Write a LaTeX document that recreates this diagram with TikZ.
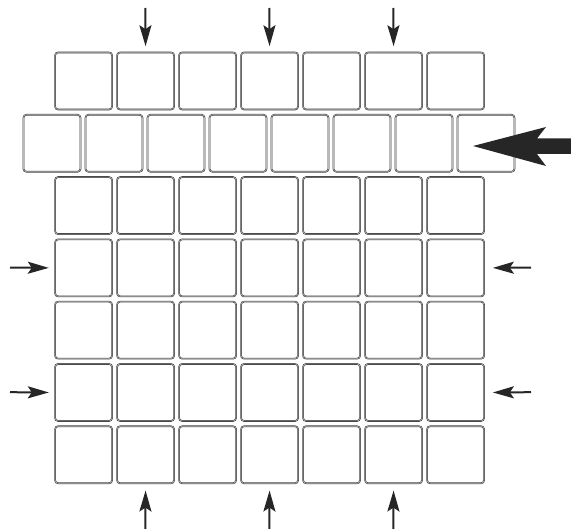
\documentclass[tikz,border=0pt]{standalone}
\usetikzlibrary{arrows.meta}
\begin{document}
\begin{tikzpicture}[x=1pt,y=-1pt,
  cell/.style={draw=gray!45!black, double=gray!55, double distance=0.55pt, line width=0.55pt,
    rounded corners=3pt, minimum width=57pt, minimum height=57pt, inner sep=0pt, anchor=north west},
  sarrow/.style={-{Stealth[length=21pt,width=12pt,inset=4pt]}, line width=2pt, draw=black!85},
  bigarrow/.style={fill=black!85, draw=none}]
\useasboundingbox (0,0) rectangle (571,529);
% grid rows
\foreach \r in {0,2,3,4,5,6}{
  \foreach \c in {0,...,6}{
    \node[cell] (c-\r-\c) at ({54.8+62*\c},{52.2+62.3*\r}) {};
  }
}
\foreach \c in {0,...,7}{
  \node[cell] (c-1-\c) at ({23.2+62*\c},{52.2+62.3}) {};
}
% top arrows
\coordinate (t1) at (145.3,8);
\coordinate (t2) at (269.3,8);
\coordinate (t3) at (393.3,8);
\draw[sarrow] (t1) -- ([yshift=6pt]c-0-1.north);
\draw[sarrow] (t2) -- ([yshift=6pt]c-0-3.north);
\draw[sarrow] (t3) -- ([yshift=6pt]c-0-5.north);
% bottom arrows
\coordinate (b1) at (145.3,529);
\coordinate (b2) at (269.3,529);
\coordinate (b3) at (393.3,529);
\draw[sarrow] (b1) -- ([yshift=-7pt]c-6-1.south);
\draw[sarrow] (b2) -- ([yshift=-7pt]c-6-3.south);
\draw[sarrow] (b3) -- ([yshift=-7pt]c-6-5.south);
% left arrows
\coordinate (l1) at (10,267.6);
\coordinate (l2) at (10,392.2);
\draw[sarrow] (l1) -- ([xshift=-6pt]c-3-0.west);
\draw[sarrow] (l2) -- ([xshift=-6pt]c-5-0.west);
% right arrows
\coordinate (r1) at (531,267.6);
\coordinate (r2) at (531,392.2);
\draw[sarrow] (r1) -- ([xshift=8.5pt]c-3-6.east);
\draw[sarrow] (r2) -- ([xshift=8.5pt]c-5-6.east);
% big arrow
\fill[bigarrow] (473,146) -- (546,127) -- (537,138.5) -- (571,138.5) -- (571,154) -- (537,154) -- (546,166) -- cycle;
\end{tikzpicture}
\end{document}
